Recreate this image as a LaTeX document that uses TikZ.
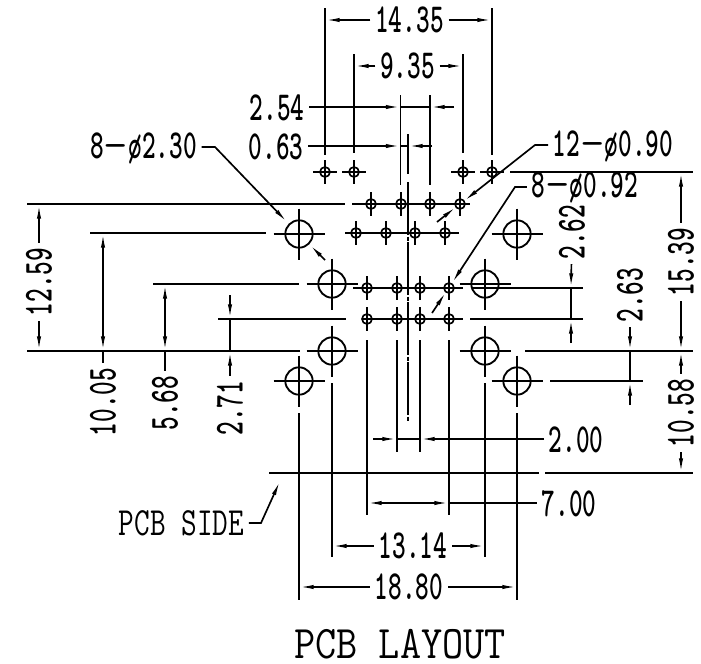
\documentclass[tikz,border=0pt]{standalone}
\usepackage{graphicx}
\usetikzlibrary{arrows.meta}
\newcommand{\nar}[2][.63]{\scalebox{#1}[1]{#2}}

\begin{document}
\begin{tikzpicture}[
    x=0.75pt, y=-0.75pt,
    >={Latex[length=11pt,width=3.2pt]},
    every path/.style={line width=1.25pt},
    dimtext/.style={font=\fontsize{31}{31}\selectfont\ttfamily\bfseries, inner sep=3pt},
    titletext/.style={font=\fontsize{35}{35}\selectfont\ttfamily, inner sep=0pt},
    dimline/.style={->},
    heavy/.style={line width=1.8pt},
    bighole/.style={circle,draw,line width=1.4pt,minimum size=20.5pt,inner sep=0pt},
    smallhole/.style={circle,draw,line width=1.25pt,minimum size=7.5pt,inner sep=0pt}
]
\useasboundingbox (0,0) rectangle (701,664);

% mounting holes
\foreach \hx/\hy [count=\i] in {299/234,517/234,332/284,485/284,332/351,485/351,299/381,517/381} {
    \node[bighole] (B\i) at (\hx,\hy) {};
    \draw (\hx-25.5,\hy) -- (\hx+25.5,\hy);
    \draw (\hx,\hy-25.5) -- (\hx,\hy+25.5);
}

% signal holes
\foreach \hx/\hy [count=\i] in {325/172,354/172,463/172,492/172,
    371/204,401/204,430/204,460/204,
    356/233,386/233,415/233,445/233,
    367/288,397/288,420/288,449/288,
    367/319,397/319,420/319,449/319} {
    \node[smallhole] (S\i) at (\hx,\hy) {};
    \draw (\hx,\hy-12) -- (\hx,\hy+12);
}
\foreach \hx in {325,354,463,492} {
    \draw (\hx-12,172) -- (\hx+12,172);
}
\draw (352,204) -- (470,204);
\draw (345,233) -- (459,233);
\draw (353,288) -- (463,288);
\draw (362,319) -- (463,319);

% centre line
\draw (408,134) -- (408,174);
\draw[dash pattern=on 40pt off 1pt on 3pt off 1pt] (408,182) -- (408,422);

% horizontal extension lines
\draw (510,172) -- (693,172);
\draw (27,204) -- (345,204);
\draw (90,233) -- (266,233);
\draw (153,284) -- (299,284);
\draw (472,288) -- (583,288);
\draw (218,319) -- (346,319);
\draw (470,319) -- (583,319);
\draw (27,351) -- (90,351);
\draw[heavy] (90,351) -- (300,351);
\draw[heavy] (525,351) -- (640,351);
\draw (640,351) -- (693,351);
\draw (550,381) -- (643,381);
\draw (269,473) -- (539,473);
\draw (545,473) -- (693,473);

% vertical extension lines
\draw (325,8) -- (325,155);
\draw (492,8) -- (492,155);
\draw (354,54) -- (354,153);
\draw (463,54) -- (463,153);
\draw (400.5,95) -- (400.5,185);
\draw (430,95) -- (430,185);
\foreach \hx/\ya/\yb in {299/413/600,517/413/600,332/383/557,485/383/557,
    367/340/515,449/340/515,397/340/452,420/340/452} {
    \draw (\hx,\ya) -- (\hx,\yb);
}

% dimensions with the text in the line
\foreach \nm/\lab/\cx/\cy/\ax/\ay/\bx/\by/\rot in {
    a1435/14.35/409.5/20/325/20/492/20/0,
    a935/9.35/407.5/66/354/66/463/66/0,
    a1314/13.14/413/546/332/546/485/546/0,
    a1880/18.80/409/587/299/587/517/587/0,
    a1259/12.59/39/282/39/204/39/351/90,
    a1539/15.39/681/262/681/172/681/351/90,
    a1058/10.58/681/413/681/351/681/473/90} {
    \node[dimtext,rotate=\rot] (\nm) at (\cx,\cy) {\nar{\lab}};
    \coordinate (\nm l) at (\ax,\ay);
    \coordinate (\nm r) at (\bx,\by);
    \draw[dimline] (\nm) -- (\nm l);
    \draw[dimline] (\nm) -- (\nm r);
}

% 2.54 and 0.63
\node[dimtext] (a254) at (277,108) {\nar{2.54}};
\coordinate (a254l) at (400.5,107);
\coordinate (a254r) at (430,107);
\coordinate (a254e) at (454,107);
\draw[dimline] (a254.east |- a254l) -- (a254l);
\draw (a254l) -- (a254r);
\draw[dimline] (a254e) -- (a254r);

\node[dimtext] (a063) at (276,147) {\nar{0.63}};
\coordinate (a063l) at (400.5,146);
\coordinate (a063r) at (408,146);
\coordinate (a063e) at (432,146);
\draw[dimline] (a063.east |- a063l) -- (a063l);
\draw (a063l) -- (a063r);
\draw[dimline] (a063e) -- (a063r);

% dimensions on the left
\node[dimtext,rotate=90] (a1005) at (103,402) {\nar{10.05}};
\coordinate (a1005t) at (103,233);
\coordinate (a1005b) at (103,351);
\draw[<->] (a1005t) -- (a1005b);
\draw (a1005b) -- (a1005);

\node[dimtext,rotate=90] (a568) at (165,403) {\nar{5.68}};
\coordinate (a568t) at (165,284);
\coordinate (a568b) at (165,351);
\draw[<->] (a568t) -- (a568b);
\draw (a568b) -- (a568);

\node[dimtext,rotate=90] (a271) at (230,408) {\nar{2.71}};
\coordinate (a271e) at (230,295);
\coordinate (a271t) at (230,319);
\coordinate (a271b) at (230,351);
\draw[dimline] (a271e) -- (a271t);
\draw (a271t) -- (a271b);
\draw[dimline] (a271) -- (a271b);

% dimensions on the right
\node[dimtext,rotate=90] (a262) at (572,232) {\nar{2.62}};
\coordinate (a262t) at (571,288);
\coordinate (a262b) at (571,319);
\coordinate (a262e) at (571,343);
\draw[dimline] (a262) -- (a262t);
\draw (a262t) -- (a262b);
\draw[dimline] (a262e) -- (a262b);

\node[dimtext,rotate=90] (a263) at (630,295) {\nar{2.63}};
\coordinate (a263t) at (630,351);
\coordinate (a263b) at (630,381);
\coordinate (a263e) at (630,405);
\draw[dimline] (a263) -- (a263t);
\draw (a263t) -- (a263b);
\draw[dimline] (a263e) -- (a263b);

% dimensions at the bottom
\node[dimtext,anchor=west] (a200) at (544,440) {\nar{2.00}};
\coordinate (a200l) at (397,439);
\coordinate (a200r) at (420,439);
\coordinate (a200e) at (373,439);
\draw[dimline] (a200e) -- (a200l);
\draw (a200l) -- (a200r);
\draw[dimline] (a200.west |- a200r) -- (a200r);

\node[dimtext,anchor=west] (a700) at (537,504) {\nar{7.00}};
\coordinate (a700l) at (367,503);
\coordinate (a700r) at (449,503);
\draw[<->] (a700l) -- (a700r);
\draw (a700r) -- (a700.west |- a700r);

% hole callouts
\node[dimtext] (c230) at (143.5,148) {\nar{8}\nar[1.15]{\mdseries -}\nar{ø2.30}};
\coordinate (c230a) at (215,147);
\coordinate (c230b) at (287,222);
\coordinate (c230c) at (325,260);
\coordinate (c230d) at (310,245);
\draw[dimline] (c230.east |- c230a) -- (c230a) -- (c230b);
\draw[dimline] (c230c) -- (c230d);

\node[dimtext] (c090) at (613,146) {\nar{12}\nar[1.15]{\mdseries -}\nar{ø0.90}};
\coordinate (c090a) at (535,145);
\coordinate (c090b) at (464,201);
\coordinate (c090c) at (437,222);
\coordinate (c090d) at (456,207);
\draw[dimline] (c090.west |- c090a) -- (c090a) -- (c090b);
\draw[dimline] (c090c) -- (c090d);

\node[dimtext] (c092) at (585,187) {\nar{8}\nar[1.15]{\mdseries -}\nar{ø0.92}};
\coordinate (c092a) at (515,187);
\coordinate (c092b) at (452,283);
\coordinate (c092c) at (432,313);
\coordinate (c092d) at (446,292);
\draw[dimline] (c092.west |- c092a) -- (c092a) -- (c092b);
\draw[dimline] (c092c) -- (c092d);

% pcb side
\node[dimtext,font=\fontsize{30}{30}\selectfont\ttfamily] (side) at (181.5,523) {\nar[.76]{PCB SIDE}};
\coordinate (sidea) at (261,523);
\coordinate (sideb) at (280,481);
\draw[dimline] (side) -- (sidea) -- (sideb);

\node[titletext] (title) at (400,644) {\nar[.88]{PCB LAYOUT}};

\end{tikzpicture}
\end{document}
